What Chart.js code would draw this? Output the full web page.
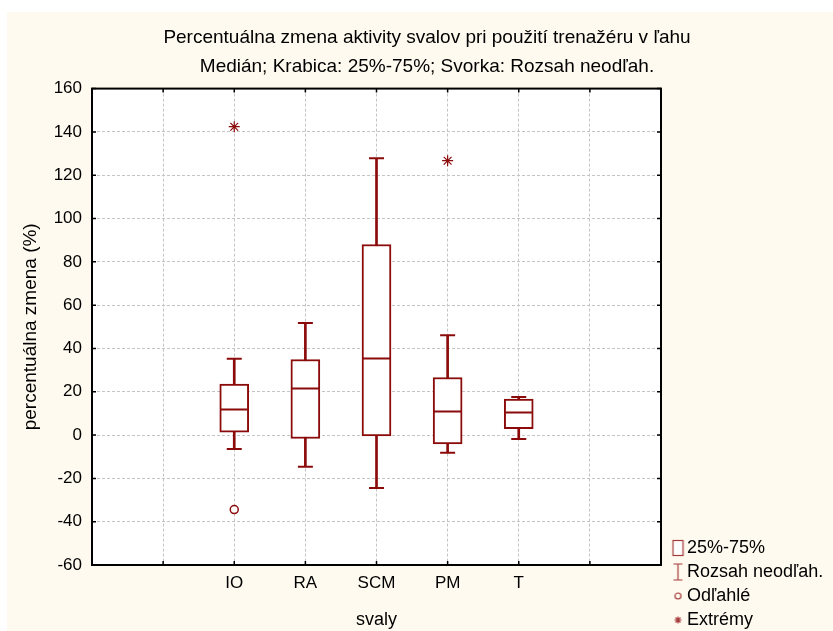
<!DOCTYPE html>
<html>
<head>
<meta charset="utf-8">
<script src="https://cdn.jsdelivr.net/npm/chart.js@4.4.1/dist/chart.umd.min.js"></script>
<style>
    body { margin: 0; background: #fff; }
    #frame { position: absolute; left: 7px; top: 12px; width: 826px; height: 619px; background: #fffaef; }
</style>
</head>
<body>
<div id="frame"><canvas id="myChart" width="826" height="619"></canvas></div>
<script>
// data
const xLabels = ['', '', 'IO', 'RA', 'SCM', 'PM', 'T', '', '']
const categories = ['IO', 'RA', 'SCM', 'PM', 'T']
const q1 = [1.3, -1.6, -0.4, -4.1, 3.0]
const q3 = [23.5, 34.9, 88.0, 26.6, 16.6]
const medians = [11.8, 21.5, 35.4, 10.9, 10.4]
const whiskerLow = [-6.4, -14.6, -24.4, -8.2, -1.8]
const whiskerHigh = [35.2, 51.8, 127.8, 46.1, 17.6]
const outlierCats = ['IO']
const outlierValues = [-34.4]
const extremeCats = ['IO', 'PM']
const extremeValues = [142.4, 126.7]
const yMin = -60, yMax = 160, yStep = 20
const legendNames = ['25%-75%', 'Rozsah neodľah.', 'Odľahlé', 'Extrémy']

const red = '#8b0a0a'
const font = "'Liberation Sans', Arial, sans-serif"

// legend icons
function icon(draw) {
    const c = document.createElement('canvas')
    c.width = 24; c.height = 20
    const g = c.getContext('2d')
    g.strokeStyle = '#a43a3a'
    g.fillStyle = '#fff'
    g.lineWidth = 1.2
    draw(g)
    return c
}
const legendIcons = [
    icon(g => { g.fillRect(12.5, 2.5, 10, 15); g.strokeRect(12.5, 2.5, 10, 15) }),
    icon(g => {
        g.beginPath()
        g.moveTo(17.5, 2); g.lineTo(17.5, 18)
        g.moveTo(13, 2); g.lineTo(22, 2)
        g.moveTo(13, 18); g.lineTo(22, 18)
        g.stroke()
    }),
    icon(g => { g.beginPath(); g.arc(17.5, 10, 3, 0, Math.PI * 2); g.stroke() }),
    icon(g => {
        g.beginPath()
        for (let a = 0; a < 4; a++) {
            const dx = Math.cos(a * Math.PI / 4) * 3.5, dy = Math.sin(a * Math.PI / 4) * 3.5
            g.moveTo(17.5 - dx, 10 - dy); g.lineTo(17.5 + dx, 10 + dy)
        }
        g.stroke()
    })
]

const pts = (cats, vals) => cats.map((c, i) => ({ x: c, y: vals[i] }))

// white plot area, black frame with inward ticks
const plotFrame = {
    id: 'plotFrame',
    afterLayout(chart) {
        // legend sits a little lower in the original
        chart.legend.top += 4
        chart.legend.bottom += 4
    },
    beforeDraw(chart) {
        const { ctx, chartArea: a } = chart
        ctx.save()
        ctx.fillStyle = '#fff'
        ctx.fillRect(a.left, a.top, a.right - a.left, a.bottom - a.top)
        ctx.restore()
    },
    afterDatasetsDraw(chart) {
        const { ctx, chartArea: a, scales } = chart
        ctx.save()
        ctx.strokeStyle = '#000'
        ctx.lineWidth = 1.5
        ctx.beginPath()
        scales.y.ticks.forEach((t, i) => {
            const y = scales.y.getPixelForTick(i)
            ctx.moveTo(a.left, y); ctx.lineTo(a.left + 4, y)
            ctx.moveTo(a.right, y); ctx.lineTo(a.right - 4, y)
        })
        scales.x.ticks.forEach((t, i) => {
            const x = scales.x.getPixelForTick(i)
            ctx.moveTo(x, a.top); ctx.lineTo(x, a.top + 4)
            ctx.moveTo(x, a.bottom); ctx.lineTo(x, a.bottom - 4)
        })
        ctx.stroke()
        ctx.lineWidth = 2
        ctx.strokeRect(a.left, a.top, a.right - a.left, a.bottom - a.top)
        ctx.restore()
    }
}

const ctx = document.getElementById('myChart')
new Chart(ctx, {
    type: 'bar',
    data: {
        labels: xLabels,
        datasets: [
            {
                // whiskers
                type: 'bar',
                data: categories.map((c, i) => ({ x: c, y: [whiskerLow[i], whiskerHigh[i]] })),
                backgroundColor: red,
                borderWidth: 0,
                barThickness: 2,
                grouped: false,
                order: 3
            },
            {
                // boxes
                type: 'bar',
                data: categories.map((c, i) => ({ x: c, y: [q1[i], q3[i]] })),
                backgroundColor: '#fff',
                borderColor: red,
                borderWidth: 2,
                borderSkipped: false,
                barThickness: 29,
                grouped: false,
                order: 2
            },
            {
                // medians
                type: 'line',
                showLine: false,
                data: pts(categories, medians),
                pointStyle: 'line',
                pointRadius: 14,
                pointBorderWidth: 2,
                pointBorderColor: red,
                order: 1
            },
            {
                // whisker caps
                type: 'line',
                showLine: false,
                data: pts(categories, whiskerLow).concat(pts(categories, whiskerHigh)),
                pointStyle: 'line',
                pointRadius: 7.5,
                pointBorderWidth: 2,
                pointBorderColor: red,
                order: 1
            },
            {
                type: 'line',
                showLine: false,
                data: pts(outlierCats, outlierValues),
                pointStyle: 'circle',
                pointRadius: 4,
                pointBorderWidth: 1.5,
                pointBorderColor: red,
                pointBackgroundColor: '#fff',
                order: 0
            },
            {
                type: 'line',
                showLine: false,
                data: pts(extremeCats, extremeValues),
                pointStyle: 'star',
                pointRadius: 5.5,
                pointBorderWidth: 1.2,
                pointBorderColor: red,
                order: 0
            }
        ]
    },
    options: {
        responsive: false,
        animation: false,
        events: [],
        layout: { padding: { left: 14 } },
        scales: {
            x: {
                type: 'category',
                offset: false,
                grid: { offset: false, color: '#c4c4c4', drawTicks: false },
                border: { display: false, dash: [3, 2] },
                ticks: { color: '#000', font: { size: 17, family: font }, padding: 8, autoSkip: false, maxRotation: 0 },
                title: { display: true, text: 'svaly', color: '#000', font: { size: 18, family: font }, padding: 0 },
                afterFit: s => { s.height = 66 }
            },
            y: {
                min: yMin,
                max: yMax,
                grid: { color: '#c4c4c4', drawTicks: false },
                border: { display: false, dash: [3, 2] },
                ticks: { stepSize: yStep, color: '#000', font: { size: 17, family: font }, padding: 10 },
                title: { display: true, text: 'percentuálna zmena (%)', color: '#000', font: { size: 19, family: font, lineHeight: 1 }, padding: 0 },
                afterFit: s => { s.width = 71 }
            }
        },
        plugins: {
            title: {
                display: true,
                text: 'Percentuálna zmena aktivity svalov pri použití trenažéru v ľahu',
                color: '#000',
                font: { size: 19, weight: 'normal', family: font },
                padding: { top: 14, bottom: 7 }
            },
            subtitle: {
                display: true,
                text: 'Medián; Krabica: 25%-75%; Svorka: Rozsah neodľah.',
                color: '#000',
                font: { size: 19, weight: 'normal', family: font },
                padding: { top: 0, bottom: 10 }
            },
            legend: {
                position: 'right',
                align: 'end',
                maxWidth: 172,
                onClick: null,
                labels: {
                    usePointStyle: true,
                    pointStyleWidth: 11,
                    padding: 6,
                    color: '#000',
                    font: { size: 18, family: font },
                    generateLabels: () => legendNames.map((t, i) => ({
                        text: t,
                        pointStyle: legendIcons[i],
                        fillStyle: 'transparent',
                        strokeStyle: 'transparent',
                        lineWidth: 0,
                        hidden: false,
                        datasetIndex: i
                    }))
                }
            },
            tooltip: { enabled: false }
        }
    },
    plugins: [plotFrame]
});
</script>
</body>
</html>
